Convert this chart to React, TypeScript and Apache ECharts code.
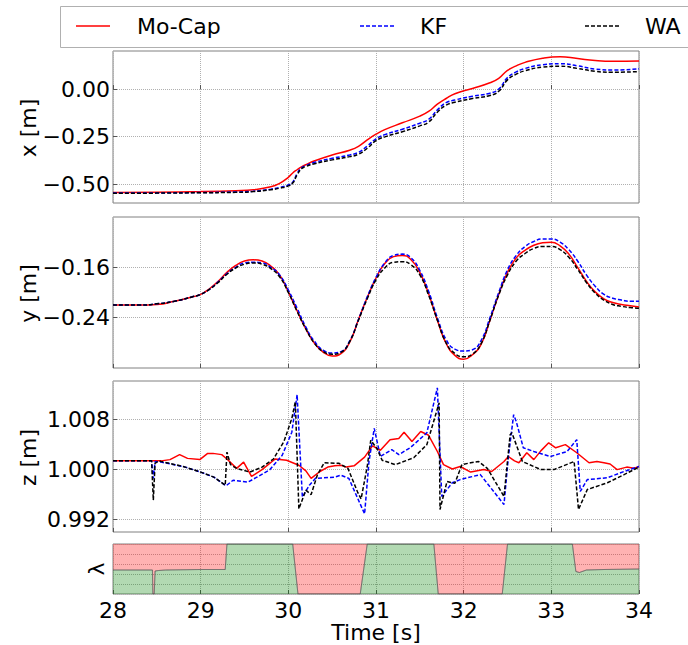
import React, { useEffect, useRef } from "react";
import * as echarts from "echarts";

// ---------------- data ----------------
const timeTicks = [28, 29, 30, 31, 32, 33, 34];

// x position panel
const xTime = [28.0, 28.5, 29.0, 29.4, 29.6, 29.8, 29.9, 30.0, 30.05, 30.1, 30.15, 30.2, 30.3, 30.5, 30.7, 30.8, 30.9, 31.0, 31.1, 31.3, 31.5, 31.6, 31.7, 31.8, 31.9, 32.1, 32.3, 32.4, 32.5, 32.6, 32.7, 32.9, 33.1, 33.3, 33.5, 33.7, 34.0];
const xMocap = [-0.545, -0.543, -0.540, -0.535, -0.530, -0.515, -0.497, -0.465, -0.442, -0.425, -0.410, -0.398, -0.378, -0.347, -0.322, -0.302, -0.268, -0.238, -0.214, -0.178, -0.143, -0.118, -0.080, -0.050, -0.025, 0.003, 0.033, 0.056, 0.098, 0.122, 0.140, 0.162, 0.170, 0.160, 0.150, 0.146, 0.147];
const xKF = [-0.548, -0.547, -0.545, -0.542, -0.538, -0.527, -0.518, -0.505, -0.490, -0.445, -0.415, -0.403, -0.386, -0.365, -0.347, -0.333, -0.300, -0.262, -0.240, -0.212, -0.180, -0.160, -0.110, -0.072, -0.058, -0.038, -0.022, 0.000, 0.060, 0.090, 0.108, 0.128, 0.133, 0.122, 0.105, 0.100, 0.106];
const xWA = [-0.549, -0.548, -0.546, -0.544, -0.540, -0.530, -0.522, -0.510, -0.495, -0.452, -0.420, -0.408, -0.393, -0.373, -0.356, -0.343, -0.312, -0.272, -0.252, -0.225, -0.194, -0.174, -0.122, -0.085, -0.070, -0.050, -0.034, -0.012, 0.048, 0.078, 0.096, 0.115, 0.120, 0.108, 0.093, 0.088, 0.092];

// y position panel
const yTime = [28.0, 28.3, 28.5, 28.7, 28.9, 29.0, 29.1, 29.2, 29.3, 29.4, 29.5, 29.6, 29.7, 29.8, 29.9, 30.0, 30.1, 30.2, 30.3, 30.4, 30.5, 30.6, 30.7, 30.8, 30.9, 31.0, 31.1, 31.2, 31.3, 31.4, 31.5, 31.6, 31.7, 31.8, 31.9, 32.0, 32.1, 32.2, 32.3, 32.4, 32.5, 32.6, 32.7, 32.8, 32.9, 33.0, 33.1, 33.2, 33.3, 33.4, 33.5, 33.6, 33.7, 33.8, 33.9, 34.0];
const yMocap = [-0.220, -0.220, -0.219, -0.214, -0.207, -0.203, -0.194, -0.182, -0.168, -0.157, -0.150, -0.148, -0.150, -0.158, -0.172, -0.199, -0.229, -0.258, -0.281, -0.295, -0.301, -0.297, -0.279, -0.243, -0.208, -0.177, -0.154, -0.143, -0.141, -0.148, -0.168, -0.202, -0.244, -0.281, -0.300, -0.306, -0.299, -0.282, -0.244, -0.203, -0.168, -0.145, -0.133, -0.125, -0.121, -0.120, -0.126, -0.139, -0.160, -0.182, -0.199, -0.210, -0.216, -0.219, -0.221, -0.223];
const yKF = [-0.220, -0.220, -0.218, -0.214, -0.207, -0.203, -0.195, -0.183, -0.170, -0.160, -0.153, -0.152, -0.153, -0.160, -0.172, -0.196, -0.225, -0.255, -0.278, -0.292, -0.296, -0.294, -0.277, -0.243, -0.207, -0.176, -0.153, -0.141, -0.139, -0.145, -0.165, -0.198, -0.240, -0.275, -0.290, -0.293, -0.291, -0.276, -0.240, -0.200, -0.164, -0.141, -0.127, -0.119, -0.115, -0.115, -0.120, -0.132, -0.150, -0.172, -0.190, -0.203, -0.209, -0.212, -0.214, -0.214];
const yWA = [-0.220, -0.220, -0.218, -0.214, -0.207, -0.203, -0.195, -0.184, -0.171, -0.161, -0.155, -0.153, -0.155, -0.162, -0.175, -0.200, -0.230, -0.258, -0.281, -0.294, -0.298, -0.295, -0.278, -0.244, -0.210, -0.180, -0.161, -0.152, -0.151, -0.156, -0.172, -0.204, -0.244, -0.280, -0.297, -0.302, -0.298, -0.281, -0.244, -0.204, -0.172, -0.150, -0.138, -0.130, -0.127, -0.127, -0.132, -0.144, -0.163, -0.184, -0.201, -0.212, -0.219, -0.222, -0.224, -0.225];

// z position panel
const zMocapTime = [28.0, 28.55, 28.65, 28.76, 28.85, 28.99, 29.08, 29.14, 29.24, 29.3, 29.41, 29.49, 29.58, 29.7, 29.85, 29.98, 30.12, 30.2, 30.26, 30.36, 30.45, 30.53, 30.6, 30.66, 30.75, 30.87, 30.96, 31.05, 31.16, 31.26, 31.32, 31.41, 31.51, 31.6, 31.7, 31.77, 31.87, 31.96, 32.08, 32.23, 32.32, 32.46, 32.51, 32.58, 32.63, 32.72, 32.8, 32.88, 32.97, 33.05, 33.16, 33.29, 33.43, 33.52, 33.6, 33.67, 33.75, 33.86, 33.94, 34.0];
const zMocap = [1.0014, 1.0014, 1.0016, 1.0024, 1.0018, 1.0016, 1.0026, 1.0026, 1.0024, 1.0017, 1.0002, 1.0012, 0.9989, 1.0000, 1.0017, 1.0015, 1.0007, 0.9998, 0.9986, 0.9997, 1.0004, 1.0006, 1.0007, 1.0004, 1.0006, 1.0020, 1.0038, 1.0031, 1.0048, 1.0050, 1.0060, 1.0045, 1.0061, 1.0055, 1.0029, 1.0008, 1.0001, 1.0005, 0.9996, 1.0000, 0.9997, 1.0013, 1.0021, 1.0014, 1.0011, 1.0027, 1.0016, 1.0030, 1.0043, 1.0035, 1.0040, 1.0027, 1.0011, 1.0013, 1.0011, 1.0009, 1.0000, 1.0004, 1.0002, 1.0005];
const zKFTime = [28.0, 28.44, 28.46, 28.48, 28.55, 28.8, 29.0, 29.15, 29.29, 29.37, 29.54, 29.63, 29.79, 29.93, 30.04, 30.1, 30.16, 30.24, 30.31, 30.53, 30.6, 30.69, 30.87, 30.92, 30.98, 31.05, 31.18, 31.26, 31.39, 31.58, 31.7, 31.75, 31.87, 31.96, 32.19, 32.46, 32.51, 32.57, 32.6, 32.68, 32.8, 32.99, 33.18, 33.29, 33.33, 33.41, 33.64, 33.83, 34.0];
const zKF = [1.0014, 1.0014, 0.9986, 1.0013, 1.0012, 1.0005, 0.9996, 0.9988, 0.9974, 0.9983, 0.9980, 0.9987, 1.0000, 1.0023, 1.0060, 1.0120, 0.9956, 0.9975, 0.9986, 0.9988, 0.9991, 0.9986, 0.9929, 1.0013, 1.0066, 1.0021, 1.0032, 1.0024, 1.0035, 1.0059, 1.0131, 0.9957, 0.9979, 0.9984, 0.9992, 0.9944, 1.0020, 1.0088, 1.0077, 1.0035, 1.0029, 1.0021, 1.0029, 1.0048, 0.9965, 0.9984, 0.9987, 0.9997, 1.0005];
const zWATime = [28.0, 28.44, 28.46, 28.48, 28.52, 28.55, 28.8, 29.0, 29.15, 29.28, 29.3, 29.34, 29.41, 29.56, 29.7, 29.83, 29.95, 30.04, 30.08, 30.12, 30.2, 30.26, 30.33, 30.41, 30.58, 30.68, 30.79, 30.83, 30.9, 30.94, 31.01, 31.07, 31.22, 31.43, 31.58, 31.72, 31.73, 31.81, 31.9, 31.98, 32.08, 32.17, 32.27, 32.46, 32.53, 32.55, 32.67, 32.88, 33.03, 33.26, 33.31, 33.41, 33.64, 33.83, 34.0];
const zWA = [1.0014, 1.0014, 0.9951, 1.0010, 1.0014, 1.0013, 1.0005, 0.9996, 0.9988, 0.9975, 1.0028, 1.0008, 1.0002, 0.9996, 1.0004, 1.0017, 1.0045, 1.0082, 1.0109, 0.9937, 0.9967, 0.9960, 0.9991, 1.0011, 1.0010, 1.0002, 0.9964, 0.9953, 1.0005, 1.0047, 1.0034, 1.0015, 1.0008, 1.0019, 1.0040, 1.0107, 0.9936, 0.9981, 0.9978, 1.0008, 1.0011, 1.0013, 1.0002, 0.9957, 1.0056, 1.0059, 1.0013, 1.0000, 1.0000, 1.0013, 0.9936, 0.9968, 0.9979, 0.9992, 1.0004];

// lambda panel
const lambdaTime = [28.0, 28.45, 28.455, 28.47, 28.48, 28.52, 28.6, 29.0, 29.28, 29.3, 30.05, 30.11, 30.82, 30.9, 31.66, 31.71, 32.44, 32.5, 33.24, 33.28, 33.32, 33.4, 33.6, 34.0];
const lambdaValue = [0.48, 0.48, 0.0, 0.0, 0.46, 0.47, 0.48, 0.49, 0.49, 1.0, 1.0, 0.0, 0.0, 1.0, 1.0, 0.0, 0.0, 1.0, 1.0, 0.45, 0.43, 0.48, 0.49, 0.5];

// tick labels
const xPanelTicks = [-0.5, -0.25, 0.0];
const yPanelTicks = [-0.24, -0.16];
const zPanelTicks = [0.992, 1.0, 1.008];

const legendNames = ["Mo-Cap", "KF", "WA"];
const axisTitles = ["x [m]", "y [m]", "z [m]"];

// ---------------- chart ----------------
const FONT = "DejaVu Sans";
const PLOT_LEFT = 113;
const PLOT_RIGHT = 49;
const panelTops = [51, 217, 381, 544];
const panelHeights = [152, 151, 151, 50];

const zip = (t: number[], v: number[]) => t.map((x, i) => [x, v[i]]);
const minus = (s: string) => s.replace("-", "\u2212");

function buildOption() {
  const grids = panelTops.map((top, i) => ({
    left: PLOT_LEFT,
    right: PLOT_RIGHT,
    top,
    height: panelHeights[i],
    show: true,
    borderColor: "#808080",
    borderWidth: 1,
    backgroundColor: "#ffffff",
    containLabel: false,
    outerBoundsMode: "none",
  }));

  const gridLine = { show: true, lineStyle: { type: "dotted", color: "#b0b0b0", width: 1 } };

  const xAxes = panelTops.map((_, i) => ({
    type: "value",
    gridIndex: i,
    min: 28,
    max: 34,
    interval: 1,
    axisLine: { show: false },
    axisTick: { show: true, inside: true, length: 4, lineStyle: { color: "#555" } },
    axisLabel: {
      show: i === 3,
      margin: 5,
      fontSize: 22,
      fontFamily: FONT,
      color: "#000",
      formatter: (v: number) => (timeTicks.includes(v) ? String(v) : ""),
    },
    splitLine: gridLine,
    name: i === 3 ? "Time [s]" : "",
    nameLocation: "middle",
    nameGap: 26,
    nameTextStyle: { fontSize: 22, fontFamily: FONT, color: "#000" },
  }));

  const yAxisBase = (i: number, min: number, max: number, ticks: number[], digits: number) => ({
    type: "value",
    gridIndex: i,
    min,
    max,
    axisLine: { show: false },
    axisTick: { show: true, inside: true, length: 4, customValues: ticks, lineStyle: { color: "#555" } },
    axisLabel: {
      show: true,
      customValues: ticks,
      margin: 3,
      fontSize: 22,
      fontFamily: FONT,
      color: "#000",
      formatter: (v: number) => minus(v.toFixed(digits)),
    },
    splitLine: gridLine,
  });

  const yAxes = [
    yAxisBase(0, -0.6, 0.2, xPanelTicks, 2),
    yAxisBase(1, -0.32, -0.08, yPanelTicks, 2),
    yAxisBase(2, 0.99, 1.0142, zPanelTicks, 3),
    {
      type: "value",
      gridIndex: 3,
      min: 0,
      max: 1,
      interval: 0.2,
      axisLine: { show: false },
      axisTick: { show: false },
      axisLabel: { show: false },
      splitLine: gridLine,
      name: "λ",
      nameLocation: "middle",
      nameGap: 6,
      nameTextStyle: { fontSize: 22, fontFamily: FONT, color: "#000" },
    },
  ];

  const colors = ["#ff0000", "#0000ff", "#000000"];
  const dashes: any[] = ["solid", [4, 2], [4, 2]];

  const line = (idx: number, panel: number, data: number[][], smooth: boolean) => ({
    type: "line",
    name: legendNames[idx],
    xAxisIndex: panel,
    yAxisIndex: panel,
    data,
    symbol: "none",
    showSymbol: false,
    smooth: smooth ? 0.5 : false,
    lineStyle: { color: colors[idx], width: 1.5, type: dashes[idx] },
    itemStyle: { color: colors[idx] },
    z: 3 + idx,
    silent: true,
  });

  const lambdaData = zip(lambdaTime, lambdaValue);

  const series: any[] = [
    line(0, 0, zip(xTime, xMocap), true),
    line(1, 0, zip(xTime, xKF), true),
    line(2, 0, zip(xTime, xWA), true),
    line(0, 1, zip(yTime, yMocap), true),
    line(1, 1, zip(yTime, yKF), true),
    line(2, 1, zip(yTime, yWA), true),
    line(0, 2, zip(zMocapTime, zMocap), false),
    line(1, 2, zip(zKFTime, zKF), false),
    line(2, 2, zip(zWATime, zWA), false),
    {
      type: "line",
      name: "λ (WA)",
      xAxisIndex: 3,
      yAxisIndex: 3,
      data: lambdaData,
      symbol: "none",
      lineStyle: { color: "rgba(90,90,90,0.5)", width: 1 },
      areaStyle: { color: "rgba(0,128,0,0.3)", opacity: 1, origin: "start" },
      silent: true,
      z: 2,
    },
    {
      type: "line",
      name: "1 − λ (KF)",
      xAxisIndex: 3,
      yAxisIndex: 3,
      data: lambdaData,
      symbol: "none",
      lineStyle: { color: "rgba(90,90,90,0.5)", width: 1 },
      areaStyle: { color: "rgba(255,0,0,0.3)", opacity: 1, origin: "end" },
      silent: true,
      z: 2,
    },
  ];

  // legend drawn as graphic items
  const legendY = 26;
  const legendItems = [
    { x0: 76, tx: 137 },
    { x0: 360, tx: 420 },
    { x0: 585, tx: 645 },
  ];
  const graphic: any[] = [
    {
      type: "rect",
      shape: { x: 60.5, y: 6.5, width: 700, height: 41 },
      style: { fill: "#fff", stroke: "#b0b0b0", lineWidth: 1 },
      z: 10,
    },
  ];
  legendItems.forEach((it, i) => {
    graphic.push({
      type: "line",
      shape: { x1: it.x0, y1: legendY, x2: it.x0 + 34, y2: legendY },
      style: { stroke: colors[i], lineWidth: 1.5, lineDash: i === 0 ? null : [4, 2] },
      z: 11,
    });
    graphic.push({
      type: "text",
      x: it.tx,
      y: legendY,
      style: { text: legendNames[i], fontSize: 22, fontFamily: FONT, fill: "#000", verticalAlign: "middle", align: "left" },
      z: 11,
    });
  });

  // rotated y-axis titles
  axisTitles.forEach((t, i) => {
    graphic.push({
      type: "text",
      x: 28,
      y: panelTops[i] + panelHeights[i] / 2 + 1,
      rotation: Math.PI / 2,
      style: { text: t, fontSize: 22, fontFamily: FONT, fill: "#000", align: "center", verticalAlign: "middle" },
      z: 11,
    });
  });

  return {
    animation: false,
    backgroundColor: "#ffffff",
    grid: grids,
    xAxis: xAxes,
    yAxis: yAxes,
    series,
    graphic,
  };
}

export default function App() {
  const ref = useRef<HTMLDivElement>(null);
  useEffect(() => {
    const chart = echarts.init(ref.current!, null, { renderer: "svg" });
    chart.setOption(buildOption() as any);
    return () => chart.dispose();
  }, []);
  return (
    <div
      ref={ref}
      style={{ position: "absolute", left: 0, top: 0, width: 688, height: 645 }}
    />
  );
}
